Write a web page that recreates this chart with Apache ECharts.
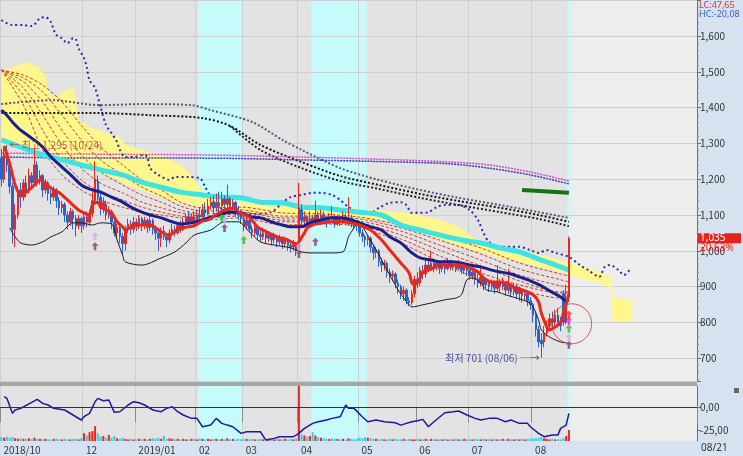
<!DOCTYPE html>
<html>
<head>
<meta charset="utf-8">
<script src="https://cdn.jsdelivr.net/npm/echarts@6/dist/echarts.min.js"></script>
<style>
  html, body { margin: 0; padding: 0; background: #d6e2ef; }
  #chart { width: 743px; height: 456px; }
</style>
</head>
<body>
<div id="chart"></div>
<script>
// ---- data ----
// 207 trading days (2018/10/22 .. 2019/08/21) + 46 empty slots for the forward cloud
const catCount = 253;
const monthStarts = [0, 30, 49, 71, 88, 108, 130, 151, 170, 193];
const monthLabels = ['2018/10', '12', '2019/01', '02', '03', '04', '05', '06', '07', '08'];
const lastDateLabel = '08/21';

const opens = [1260,1200,1265,1240,1180,1060,1100,1170,1150,1190,
  1170,1210,1190,1240,1200,1210,1170,1190,1160,1150,
  1170,1140,1120,1130,1100,1080,1110,1090,1070,1090,
  1070,1095,1080,1105,1140,1195,1150,1120,1130,1100,
  1110,1080,1050,1065,1040,1020,1060,1075,1060,1080,
  1070,1090,1070,1085,1065,1085,1060,1050,1035,1055,
  1040,1030,1050,1060,1050,1070,1060,1080,1095,1080,
  1095,1085,1100,1095,1115,1105,1125,1135,1120,1135,
  1125,1145,1130,1145,1125,1135,1110,1100,1090,1070,
  1085,1060,1050,1065,1045,1040,1050,1035,1045,1030,
  1040,1025,1035,1020,1030,1015,1010,1020,1000,1115,
  1085,1095,1075,1090,1080,1100,1085,1100,1085,1080,
  1095,1090,1075,1090,1080,1095,1075,1090,1080,1075,
  1070,1050,1040,1030,1035,1010,995,1000,970,960,
  965,940,930,935,910,900,880,890,860,855,
  880,920,910,945,935,960,950,965,955,965,
  950,960,950,965,955,960,950,960,945,955,
  945,930,940,920,910,925,905,915,900,910,
  895,915,900,910,890,905,885,900,880,890,
  875,880,860,850,820,780,750,745,770,790,
  810,800,820,800,880,800,870];
const closes = [1200,1270,1240,1180,1060,1100,1170,1150,1190,1170,
  1210,1190,1240,1200,1210,1170,1190,1160,1150,1170,
  1140,1120,1130,1100,1080,1110,1090,1070,1090,1070,
  1095,1080,1105,1140,1200,1150,1120,1135,1100,1115,
  1080,1050,1065,1040,1020,1060,1075,1060,1080,1070,
  1090,1070,1085,1065,1085,1060,1050,1035,1055,1040,
  1030,1050,1060,1050,1070,1060,1080,1095,1080,1095,
  1085,1100,1095,1115,1105,1125,1135,1120,1135,1125,
  1145,1130,1145,1125,1135,1110,1100,1090,1070,1085,
  1060,1050,1065,1045,1040,1050,1035,1045,1030,1040,
  1025,1035,1020,1030,1015,1010,1020,1000,1120,1085,
  1095,1075,1090,1080,1100,1085,1100,1085,1080,1095,
  1090,1075,1090,1080,1095,1085,1090,1080,1075,1070,
  1050,1040,1030,1035,1010,995,1000,970,960,965,
  940,930,935,910,900,880,890,860,855,880,
  920,910,945,935,960,950,965,955,965,950,
  960,950,965,955,960,950,960,945,955,945,
  930,940,920,910,925,905,915,900,910,895,
  915,900,910,890,905,885,900,880,890,875,
  880,860,850,820,780,745,740,770,790,810,
  800,820,800,790,800,858,1035];
const lows = [1180,1190,1220,1160,1020,1010,1090,1120,1140,1150,
  1160,1170,1180,1180,1185,1150,1160,1140,1130,1140,
  1120,1100,1105,1080,1060,1070,1060,1040,1060,1050,
  1060,1065,1070,1095,1130,1130,1100,1105,1085,1090,
  1060,1040,1035,1020,990,1000,1050,1045,1050,1055,
  1060,1055,1060,1050,1055,1045,1030,1000,1010,1030,
  1010,1020,1040,1040,1045,1050,1055,1070,1070,1075,
  1075,1080,1085,1090,1095,1100,1115,1105,1110,1110,
  1115,1110,1115,1105,1110,1095,1085,1075,1055,1060,
  1050,1035,1040,1030,1025,1030,1020,1025,1015,1020,
  1010,1015,1005,1010,1000,995,1000,985,995,1070,
  1075,1060,1065,1070,1075,1075,1080,1075,1065,1075,
  1080,1065,1070,1070,1075,1075,1070,1065,1060,1055,
  1040,1025,1010,1015,995,975,980,955,940,945,
  925,910,915,895,880,865,860,850,845,848,
  870,895,900,920,925,940,945,940,945,935,
  940,935,945,945,945,940,945,935,935,930,
  920,920,905,895,900,890,895,885,890,880,
  885,885,890,875,880,870,875,865,860,855,
  860,845,835,800,760,730,701,730,760,780,
  785,790,785,775,790,795,865];
const highs = [1285,1290,1295,1250,1190,1130,1180,1190,1200,1210,
  1230,1220,1285,1250,1225,1215,1200,1195,1170,1180,
  1175,1150,1140,1135,1110,1120,1115,1100,1100,1095,
  1105,1110,1115,1165,1250,1210,1160,1150,1140,1125,
  1115,1090,1075,1070,1050,1070,1090,1085,1095,1090,
  1100,1095,1095,1090,1100,1090,1070,1060,1065,1070,
  1050,1060,1075,1070,1080,1085,1090,1105,1110,1105,
  1110,1115,1120,1130,1135,1145,1150,1155,1160,1165,
  1165,1155,1185,1150,1145,1140,1125,1115,1100,1095,
  1090,1070,1075,1070,1060,1065,1060,1055,1050,1050,
  1045,1045,1040,1040,1035,1025,1030,1025,1190,1130,
  1110,1100,1110,1100,1140,1110,1115,1110,1095,1105,
  1125,1100,1100,1095,1110,1105,1150,1100,1090,1085,
  1075,1060,1045,1045,1040,1015,1010,1005,980,975,
  970,950,945,940,920,905,900,895,870,890,
  930,940,955,960,980,975,1000,975,975,970,
  970,975,980,975,970,970,975,965,965,960,
  950,955,945,935,960,930,925,920,920,915,
  960,920,925,915,950,910,910,905,900,895,
  890,885,870,855,830,790,770,790,805,825,
  830,835,840,815,890,905,1040];
const volumes = [7,6,8,6,7,5,4,5,4,4,
  5,4,6,4,4,3,4,3,3,4,
  4,3,3,4,3,3,4,4,3,5,
  14,10,16,18,27,14,8,9,6,11,
  6,9,5,4,6,4,3,4,3,3,
  4,3,4,3,4,5,4,6,4,9,
  4,5,4,3,4,3,4,3,3,4,
  4,3,5,4,3,4,3,4,4,3,
  4,3,5,3,4,3,4,3,3,4,
  3,4,3,3,4,3,3,4,3,3,
  4,3,3,4,3,4,3,5,100,12,
  10,8,9,16,10,7,6,5,4,4,
  5,4,4,3,4,3,5,4,3,4,
  6,5,7,6,5,4,4,3,4,3,
  3,4,3,4,3,3,4,3,4,3,
  3,4,3,3,4,3,4,3,3,3,
  3,4,3,3,3,4,3,3,4,3,
  3,3,4,3,3,4,3,3,3,4,
  3,3,4,3,4,3,3,4,3,4,
  3,4,4,5,5,6,7,5,4,3,
  4,3,3,3,5,9,20];

// lines: [day index, value]
const ma5 = [[1,1293],[3,1245],[5,1184],[7,1156],[9,1164],[12,1184],[14,1198],[16,1189],[18,1175],[21,1162],[24,1142],[28,1114],[30,1106],[32,1100],[33,1128],[35,1136],[36,1122],[38,1114],[40,1106],[42,1081],[44,1067],[45,1058],[47,1067],[51,1072],[54,1072],[58,1053],[61,1044],[63,1053],[66,1064],[70,1070],[73,1083],[75,1086],[79,1106],[81,1114],[85,1120],[86,1108],[90,1094],[93,1067],[97,1050],[100,1039],[104,1030],[107,1019],[108,1025],[110,1050],[111,1064],[113,1072],[117,1078],[121,1081],[124,1081],[127,1078],[130,1072],[134,1058],[138,1030],[141,1002],[145,966],[148,938],[149,910],[150,905],[152,924],[153,941],[156,949],[159,960],[163,960],[167,960],[169,955],[173,941],[175,924],[178,913],[180,913],[184,908],[186,899],[189,891],[193,877],[195,857],[196,826],[198,787],[199,779],[201,787],[203,801],[204,826],[205,849],[206,880]];
const ma20 = [[0,1393],[2,1379],[4,1360],[7,1337],[11,1315],[15,1290],[18,1262],[22,1234],[26,1206],[29,1184],[33,1170],[36,1164],[40,1150],[44,1136],[47,1122],[51,1108],[54,1100],[58,1092],[62,1081],[65,1075],[69,1078],[73,1086],[76,1094],[80,1103],[83,1108],[87,1106],[91,1094],[94,1092],[98,1081],[102,1072],[105,1067],[109,1067],[112,1078],[116,1086],[120,1092],[123,1092],[127,1086],[130,1078],[134,1067],[138,1058],[141,1039],[145,1022],[149,994],[152,980],[156,974],[159,969],[163,969],[167,966],[170,960],[174,955],[178,946],[181,941],[185,935],[188,927],[192,916],[196,902],[199,888],[203,871],[205,860],[206,862]];
const ma120 = [[0,1310],[7,1290],[15,1268],[22,1254],[29,1240],[36,1226],[44,1212],[51,1192],[58,1178],[65,1164],[73,1156],[80,1150],[87,1148],[94,1136],[102,1134],[109,1122],[116,1120],[123,1114],[130,1108],[138,1100],[145,1072],[152,1058],[159,1044],[167,1030],[174,1022],[181,1008],[188,997],[196,974],[203,955],[206,946]];
const lowerBand = [[3,1064],[5,1039],[7,1022],[11,1016],[15,1025],[18,1039],[22,1053],[26,1078],[29,1078],[33,1072],[36,1078],[40,1075],[42,1030],[44,988],[45,969],[51,960],[58,980],[63,997],[67,1022],[70,1044],[76,1058],[81,1081],[86,1081],[90,1053],[94,1025],[99,1016],[105,1008],[109,997],[112,994],[120,994],[124,997],[125,1011],[126,1039],[128,1064],[129,1081],[134,1030],[139,960],[144,891],[148,849],[149,843],[153,849],[156,854],[161,863],[165,868],[167,877],[168,899],[169,919],[171,924],[174,910],[176,891],[180,885],[183,877],[187,868],[191,857],[193,843],[195,807],[196,779],[199,759],[203,745],[205,743]];
const upperDots = [[0,1645],[4,1631],[8,1631],[11,1628],[14,1650],[16,1653],[18,1639],[19,1617],[20,1603],[22,1594],[24,1580],[26,1594],[27,1592],[28,1566],[30,1539],[31,1513],[32,1477],[34,1455],[35,1430],[36,1402],[38,1351],[40,1329],[42,1304],[43,1282],[45,1262],[48,1262],[52,1268],[53,1262],[54,1231],[57,1212],[61,1198],[63,1206],[68,1206],[72,1203],[74,1178],[76,1150],[78,1128],[81,1114],[87,1106],[92,1103],[98,1108],[102,1134],[105,1150],[109,1156],[113,1162],[116,1162],[120,1156],[123,1142],[126,1122],[130,1108],[134,1106],[137,1120],[141,1134],[145,1136],[147,1128],[149,1106],[152,1106],[155,1108],[158,1122],[161,1128],[166,1128],[170,1114],[173,1086],[175,1050],[177,1025],[181,1011],[185,1011],[188,1011],[192,1002],[195,994],[198,1002],[201,994],[206,983],[210,960],[213,946],[217,927],[219,955],[221,960],[224,946],[226,932],[228,946]];
const pinkDots = [[0,1273],[36,1270],[73,1268],[109,1262],[145,1254],[163,1248],[177,1240],[192,1220],[206,1195]];
const navyDots = [[0,1262],[36,1259],[73,1259],[109,1254],[145,1248],[163,1243],[177,1231],[192,1212],[206,1187]];
const grayDots = [[0,1410],[18,1421],[36,1407],[51,1410],[69,1407],[76,1393],[91,1360],[102,1310],[109,1282],[123,1231],[137,1198],[152,1170],[166,1148],[181,1128],[195,1108],[206,1092]];
const blackDots1 = [[0,1385],[36,1385],[54,1379],[73,1371],[83,1349],[94,1296],[109,1248],[123,1209],[137,1184],[152,1159],[166,1139],[181,1120],[195,1100],[206,1081]];
const blackDots2 = [[83,1349],[94,1282],[109,1231],[123,1195],[137,1173],[152,1148],[166,1128],[181,1108],[195,1089],[206,1069]];

const fanDays = [0,8,15,22,29,36,44,51,58,65,73,87,102,116,130,145,159,174,188,203,206];
const fan1 = [1505,1407,1282,1212,1170,1142,1122,1108,1100,1092,1086,1092,1072,1075,1067,1022,969,919,891,868,868];
const fan2 = [1505,1435,1337,1254,1198,1164,1142,1122,1108,1097,1092,1097,1081,1081,1072,1033,986,938,905,882,882];
const fan3 = [1505,1455,1379,1296,1231,1189,1162,1136,1120,1106,1097,1103,1086,1086,1078,1044,1002,958,916,885,885];
const fan4 = [1505,1472,1416,1337,1268,1220,1184,1156,1136,1114,1103,1108,1092,1092,1083,1055,1016,974,932,902,899];
const fan5 = [1505,1483,1444,1379,1310,1254,1212,1178,1153,1125,1111,1114,1097,1097,1089,1064,1030,991,949,919,913];
const fan6 = [1505,1491,1463,1416,1351,1290,1240,1198,1170,1136,1120,1122,1106,1103,1094,1072,1044,1008,966,935,930];

const cloudDays = [0,4,9,13,16,17,20,23,26,27,28,33,38,43,45,51,58,65,69,73,76,83,94,109,123,138,145,152,159,167,174,181,188,196,203,210,217,221,222,229];
const cloudTop = [1499,1513,1527,1516,1491,1444,1430,1449,1455,1421,1365,1343,1329,1318,1296,1282,1268,1240,1212,1164,1150,1142,1128,1122,1120,1114,1108,1100,1086,1064,1019,1008,1002,988,974,960,941,929,868,863];
const cloudBottom = [1296,1296,1290,1287,1282,1276,1268,1259,1254,1245,1240,1226,1212,1198,1184,1170,1148,1134,1128,1122,1120,1114,1100,1094,1092,1086,1072,1053,1030,1011,997,980,969,952,941,924,910,896,801,801];

const targetLine = [[189,1170],[206,1162]];

const oscillator = [[1,11.7],[2,9.9],[4,-6.6],[5,-2.9],[7,-1.1],[13,8.8],[15,4.4],[17,2.6],[19,-1.1],[23,-2.9],[26,-8.4],[29,-13.9],[30,-10.3],[32,-6.6],[34,6.2],[35,9.9],[37,7.3],[39,8.1],[41,-5.5],[43,-4.8],[46,2.6],[48,6.2],[50,5.1],[52,2.6],[55,-2.9],[58,-4.8],[60,-1.1],[62,0.7],[64,-4.8],[66,-8.4],[69,-12.1],[71,-12.1],[73,-21.3],[76,-19.5],[78,-12.1],[80,-17.6],[82,-19.5],[84,-21.3],[87,-28.6],[89,-26.8],[94,-26.8],[96,-36],[99,-34.1],[101,-32.3],[106,-32.3],[107,-30.5],[108,-28.6],[110,-23.1],[113,-17.6],[115,-15.8],[118,-13.9],[120,-12.1],[123,-10.3],[125,2.6],[126,-1.1],[128,-1.1],[131,-10.3],[133,-15.8],[136,-13.9],[139,-15.8],[143,-16.9],[145,-19.5],[147,-17.6],[149,-15.8],[151,-14.7],[153,-13.2],[155,-21.3],[157,-15.8],[161,-5.9],[164,-4.8],[166,-4],[169,-8.4],[172,-12.1],[174,-13.9],[177,-12.1],[180,-12.1],[183,-15.8],[185,-13.9],[188,-17.6],[191,-17.6],[192,-21.3],[195,-28.6],[197,-32.3],[200,-30.5],[202,-30.5],[203,-23.1],[205,-19.5],[206,-6.6]];

// signal arrows: [day index, value]
const arrowsMaroon = [[34,1013],[81,1064],[108,991],[114,1025],[206,737]];
const arrowsLavender = [[34,1041],[81,1086],[108,1011],[206,757]];
const arrowsGreen = [[80,1092],[88,1030],[206,782]];
const arrowsMagenta = [[206,804]];
const arrowsRed = [[206,821]];
const circleMark = [[207,796]];

const highPoint = [2, 1295];
const lowPoint = [196, 701];

// highlighted day ranges
const cyanRanges = [[72,87],[113,132],[206,206]];
const historyRange = [0,206];
const futureRange = [207,252];

// ---- chart ----
const cats = Array.from({length: catCount}, (_, i) => String(i));
const isMonth = (i) => monthStarts.indexOf(i) >= 0;
const fmtPrice = (v) => {
  if (v < 650 || v > 1650) return '';
  return v >= 1000 ? Math.floor(v / 1000) + ',' + String(v % 1000).padStart(3, '0') : String(v);
};
const lastIdx = closes.length - 1;
const lastClose = closes[lastIdx];
const changePct = ((lastClose / closes[lastIdx - 1] - 1) * 100).toFixed(2).replace('.', ',');

const bgData = [[historyRange[0], historyRange[1], 0], [futureRange[0], futureRange[1], 1]]
  .concat(cyanRanges.map(r => [r[0], r[1], 2]));
const bgColors = ['#e3e3e3', '#ededed', '#c6fbfb'];
function renderBg(params, api) {
  const a = api.coord([api.value(0), 0]);
  const b = api.coord([api.value(1), 0]);
  const bw = api.size([1, 0])[0];
  const cs = params.coordSys;
  return {
    type: 'rect',
    shape: {x: a[0] - bw / 2, y: cs.y, width: b[0] - a[0] + bw, height: cs.height},
    style: {fill: bgColors[api.value(2)]}
  };
}

const candleData = opens.map((o, i) => [o, closes[i], lows[i], highs[i]]);
const volData = volumes.map((v, i) => ({
  value: v,
  itemStyle: {color: closes[i] >= opens[i] ? '#e8281e' : '#36cbe6'}
}));

const arrowPath = 'path://M4,0 L8,4 L5.5,4 L5.5,9 L2.5,9 L2.5,4 L0,4 Z';
function arrowSeries(data, color) {
  return {
    type: 'scatter', xAxisIndex: 0, yAxisIndex: 0, z: 8, symbol: arrowPath, symbolSize: [7, 8],
    itemStyle: {color: color}, data: data, silent: true
  };
}
function lineSeries(data, color, width, type, z, smooth) {
  return {
    type: 'line', xAxisIndex: 0, yAxisIndex: 0, data: data, showSymbol: false, symbol: 'none',
    smooth: smooth === undefined ? 0.3 : smooth, z: z, silent: true,
    lineStyle: {color: color, width: width, type: type}
  };
}
const fans = [fan1, fan2, fan3, fan4, fan5, fan6].map(f =>
  lineSeries(fanDays.map((d, i) => [d, f[i]]), '#cc3a30', 1, [3, 2], 2, 0.3));

const baseGraphic = [
  {id: 'sep', type: 'rect', shape: {x: 0, y: 381, width: 697, height: 5}, style: {fill: '#a7a7a7'}, silent: true},
  {id: 'lc', type: 'text', x: 699, y: 1, style: {text: 'LC:47,65', fill: '#d23a3a', font: '9px "Noto Sans"'}, silent: true},
  {id: 'hc', type: 'text', x: 699, y: 10, style: {text: 'HC:-20,08', fill: '#3a64c0', font: '9px "Noto Sans"'}, silent: true},
  {id: 'last', type: 'text', x: 701, y: 443, style: {text: lastDateLabel, fill: '#333', font: '10px "Noto Sans"'}, silent: true},
  {id: 'icon', type: 'rect', shape: {x: 734, y: 388, width: 5, height: 5}, style: {fill: '#666'}, silent: true}
];

const chart = echarts.init(document.getElementById('chart'), null, {renderer: 'canvas'});
chart.setOption({
  animation: false,
  backgroundColor: '#d6e2ef',
  textStyle: {fontFamily: '"Noto Sans CJK KR", "Noto Sans", sans-serif'},
  grid: [
    {left: -2, top: 0, width: 699, height: 381},
    {left: -2, top: 386, width: 699, height: 55}
  ],
  xAxis: [
    {gridIndex: 0, type: 'category', data: cats, boundaryGap: true,
      axisLine: {show: false}, axisTick: {show: false}, axisLabel: {show: false},
      splitLine: {show: true, interval: isMonth, lineStyle: {color: '#cfcfcf', width: 1}}},
    {gridIndex: 1, type: 'category', data: cats, boundaryGap: true,
      axisLine: {show: true, lineStyle: {color: '#9a9a9a'}},
      axisTick: {show: true, interval: isMonth, length: 15, lineStyle: {color: '#8c8c8c'}},
      axisLabel: {show: true, interval: isMonth, align: 'left', margin: 4, fontSize: 10, color: '#333',
        padding: [0, 0, 0, 2],
        formatter: (v) => monthLabels[monthStarts.indexOf(+v)] || ''},
      splitLine: {show: true, interval: isMonth, lineStyle: {color: '#cfcfcf', width: 1}}}
  ],
  yAxis: [
    {gridIndex: 0, type: 'value', position: 'right', min: 636, max: 1701, splitNumber: 10,
      axisLine: {show: true, lineStyle: {color: '#707070'}},
      axisTick: {show: true, length: 4, lineStyle: {color: '#707070'}},
      minorTick: {show: true, splitNumber: 5, length: 2, lineStyle: {color: '#8a8a8a'}},
      axisLabel: {color: '#333', fontSize: 10, margin: 3, formatter: fmtPrice},
      splitLine: {show: true, lineStyle: {color: '#cfcfcf', width: 1}}},
    {gridIndex: 1, type: 'value', position: 'right', min: -37, max: 23.5,
      axisLine: {show: true, lineStyle: {color: '#707070'}},
      axisTick: {show: true, length: 4, customValues: [-25, 0], lineStyle: {color: '#707070'}},
      axisLabel: {color: '#333', fontSize: 10, margin: 3, customValues: [-25, 0],
        formatter: (v) => (v === 0 ? '0,00' : '-25,00')},
      splitLine: {show: false}},
    {gridIndex: 1, type: 'value', min: 0, max: 100, show: false}
  ],
  series: [
    {type: 'custom', xAxisIndex: 0, yAxisIndex: 0, z: -1, silent: true, renderItem: renderBg,
      encode: {x: [0, 1], y: 2}, data: bgData},
    {type: 'custom', xAxisIndex: 1, yAxisIndex: 1, z: -1, silent: true, renderItem: renderBg,
      encode: {x: [0, 1], y: 2}, data: bgData},

    // forward cloud
    {type: 'line', xAxisIndex: 0, yAxisIndex: 0, stack: 'cloud', z: 1, silent: true,
      showSymbol: false, symbol: 'none', lineStyle: {opacity: 0},
      data: cloudDays.map((d, i) => [d, cloudBottom[i]])},
    {type: 'line', xAxisIndex: 0, yAxisIndex: 0, stack: 'cloud', z: 1, silent: true,
      showSymbol: false, symbol: 'none', lineStyle: {opacity: 0},
      areaStyle: {color: '#fff68c', opacity: 1},
      data: cloudDays.map((d, i) => [d, cloudTop[i] - cloudBottom[i]])},

    lineSeries(grayDots, '#55557a', 2, [2, 2], 2),
    lineSeries(blackDots1, '#111111', 2, [2, 2], 2),
    lineSeries(blackDots2, '#222222', 2, [2, 2], 2),
    lineSeries(pinkDots, '#d24fcc', 1.5, [2, 1], 2),
    lineSeries(navyDots, '#3a3aa8', 1.5, [2, 1], 2),
    lineSeries(upperDots, '#2a2ab0', 2, [2, 3], 2),
    ...fans,
    lineSeries(ma120, '#3ee3e3', 5, 'solid', 3),

    {type: 'candlestick', xAxisIndex: 0, yAxisIndex: 0, z: 4, barWidth: 2, silent: true,
      itemStyle: {color: '#e8281e', color0: '#2d63c8', borderColor: '#e8281e', borderColor0: '#2d63c8', borderWidth: 1},
      data: candleData},

    lineSeries(ma20, '#1c1f8a', 3, 'solid', 5),
    lineSeries(lowerBand, '#1a1a1a', 1, 'solid', 5),
    lineSeries(ma5, '#e8281e', 3, 'solid', 6),
    lineSeries(targetLine, '#127512', 4, 'solid', 6, false),

    arrowSeries(arrowsMaroon, '#8b3a66'),
    arrowSeries(arrowsLavender, '#d9a8f2'),
    arrowSeries(arrowsGreen, '#22c322'),
    arrowSeries(arrowsMagenta, '#f21af2'),
    arrowSeries(arrowsRed, '#f02a20'),
    {type: 'scatter', xAxisIndex: 0, yAxisIndex: 0, z: 8, silent: true, symbol: 'circle', symbolSize: 40,
      itemStyle: {color: 'rgba(0,0,0,0)', borderColor: '#c83c3c', borderWidth: 1}, data: circleMark},

    {type: 'scatter', xAxisIndex: 0, yAxisIndex: 0, z: 9, silent: true, symbolSize: 1,
      itemStyle: {color: 'rgba(0,0,0,0)'},
      label: {show: true, position: 'right', distance: 2, color: '#a83838', fontSize: 10,
        formatter: '← 최고 ' + fmtPrice(highPoint[1]) + ' (10/24)'},
      data: [highPoint]},
    {type: 'scatter', xAxisIndex: 0, yAxisIndex: 0, z: 9, silent: true, symbolSize: 1,
      itemStyle: {color: 'rgba(0,0,0,0)'},
      label: {show: true, position: 'left', distance: 1, color: '#1f2a90', fontSize: 10,
        formatter: '최저 ' + lowPoint[1] + ' (08/06) ─→'},
      data: [lowPoint]},

    // lower panel
    {type: 'bar', xAxisIndex: 1, yAxisIndex: 2, z: 2, silent: true, barWidth: 2, data: volData},
    {type: 'line', xAxisIndex: 1, yAxisIndex: 1, z: 3, silent: true, showSymbol: false, symbol: 'none',
      lineStyle: {color: '#1a1aa0', width: 1.5}, data: oscillator,
      markLine: {silent: true, symbol: 'none', label: {show: false},
        lineStyle: {color: '#333', width: 1, type: 'solid'}, data: [{yAxis: 0}]}}
  ],
  graphic: baseGraphic
});

// current-price tag on the right axis, placed through the price scale
const tagY = chart.convertToPixel({yAxisIndex: 0}, lastClose);
chart.setOption({
  graphic: baseGraphic.concat([
    {id: 'tagBox', type: 'rect', shape: {x: 698, y: tagY - 5, width: 43, height: 10}, style: {fill: '#e8231b'}, silent: true, z: 10},
    {id: 'tagTxt', type: 'text', x: 700, y: tagY - 5, style: {text: fmtPrice(lastClose), fill: '#ffffff', font: '10px "Noto Sans"'}, silent: true, z: 11},
    {id: 'tagPct', type: 'text', x: 700, y: tagY + 5, style: {text: changePct + '%', fill: '#e8231b', font: '10px "Noto Sans"'}, silent: true, z: 11}
  ])
});
</script>
</body>
</html>
